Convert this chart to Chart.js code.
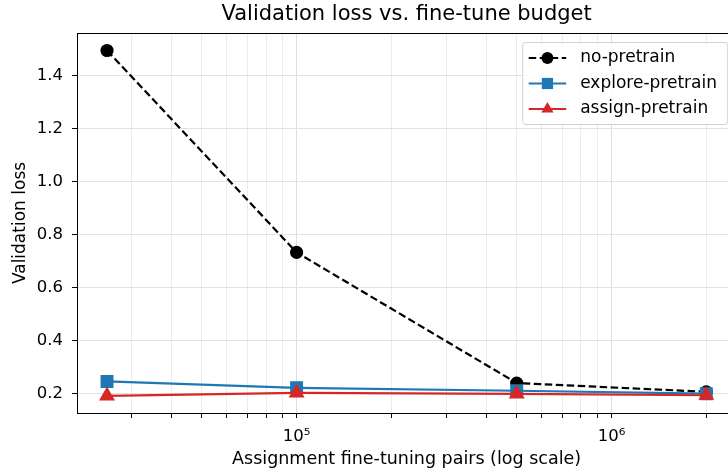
<!DOCTYPE html>
<html>
<head>
<meta charset="utf-8">
<script src="https://cdn.jsdelivr.net/npm/chart.js@4.4.0/dist/chart.umd.min.js"></script>
<style>
  html, body { margin: 0; padding: 0; background: #fff; overflow: hidden; }
  #wrap { width: 728px; height: 470px; overflow: hidden; }
</style>
</head>
<body>
<div id="wrap"><canvas id="lossChart" width="746" height="470"></canvas></div>
<script>
// ===== data =====
const budgets = [25000, 100000, 500000, 2000000];
const noPretrain = [1.495, 0.733, 0.240, 0.207];
const explorePretrain = [0.246, 0.222, 0.211, 0.200];
const assignPretrain = [0.192, 0.203, 0.199, 0.194];

const yTicks = [0.2, 0.4, 0.6, 0.8, 1.0, 1.2, 1.4];
const xMajorTicks = [1e5, 1e6];
const supers = { '4': '⁴', '5': '⁵', '6': '⁶', '7': '⁷' };

const FONT = '"DejaVu Sans", sans-serif';
const xMin = Math.pow(10, 4.3026), xMax = Math.pow(10, 6.396);

// minor gridline positions (2..9 x 10^k) plus the decades
function logTicks(min, max) {
  const out = [];
  for (let e = 4; e <= 6; e++) {
    for (let k = 1; k <= 9; k++) {
      const v = k * Math.pow(10, e);
      if (v >= min && v <= max) out.push(v);
    }
  }
  return out;
}
const isMajor = v => xMajorTicks.some(m => Math.abs(m - v) < 1);

// ===== title + frame + legend =====
const decor = {
  id: 'decor',
  afterDraw(chart) {
    const { ctx, chartArea: a } = chart;
    ctx.save();
    ctx.strokeStyle = '#000';
    ctx.lineWidth = 1;
    ctx.strokeRect(a.left + 0.5, a.top + 0.5, a.right - a.left, a.bottom - a.top);

    ctx.fillStyle = '#000';
    ctx.font = '21px ' + FONT;
    ctx.textAlign = 'center';
    ctx.textBaseline = 'middle';
    ctx.fillText('Validation loss vs. fine-tune budget', (a.left + a.right) / 2, 15);

    // legend box, upper right
    const bx = a.right - 213.5, by = a.top + 9, bw = 205, bh = 82;
    ctx.beginPath();
    ctx.roundRect(bx, by + 0.5, bw, bh, 3);
    ctx.fillStyle = 'rgba(255,255,255,0.85)';
    ctx.fill();
    ctx.strokeStyle = '#d0d0d0';
    ctx.stroke();

    chart.data.datasets.forEach((ds, i) => {
      const y = by + 16 + i * 25.5;
      const x0 = bx + 6, x1 = bx + 43.5, xm = (x0 + x1) / 2;
      ctx.beginPath();
      ctx.setLineDash(ds.borderDash || []);
      ctx.strokeStyle = ds.borderColor;
      ctx.lineWidth = ds.borderWidth;
      ctx.moveTo(x0, y);
      ctx.lineTo(x1, y);
      ctx.stroke();
      ctx.setLineDash([]);
      ctx.fillStyle = ds.borderColor;
      ctx.beginPath();
      if (ds.pointStyle === 'circle') {
        ctx.arc(xm, y, 6, 0, Math.PI * 2);
      } else if (ds.pointStyle === 'rect') {
        ctx.rect(xm - 5.6, y - 5.6, 11.2, 11.2);
      } else {
        ctx.moveTo(xm, y - 7);
        ctx.lineTo(xm + 6.1, y + 3.5);
        ctx.lineTo(xm - 6.1, y + 3.5);
        ctx.closePath();
      }
      ctx.fill();
      ctx.fillStyle = '#000';
      ctx.font = '17px ' + FONT;
      ctx.textAlign = 'left';
      ctx.fillText(ds.label, bx + 57.5, y);
    });
    ctx.restore();
  }
};

function build() {
  const ctx = document.getElementById('lossChart').getContext('2d');
  return new Chart(ctx, {
    type: 'line',
    data: {
      datasets: [{
        label: 'no-pretrain',
        data: budgets.map((b, i) => ({ x: b, y: noPretrain[i] })),
        borderColor: '#000000',
        backgroundColor: '#000000',
        borderDash: [7.5, 3.5],
        borderWidth: 2.2,
        pointStyle: 'circle',
        pointRadius: 5.5,
        order: 3
      }, {
        label: 'explore-pretrain',
        data: budgets.map((b, i) => ({ x: b, y: explorePretrain[i] })),
        borderColor: '#1f77b4',
        backgroundColor: '#1f77b4',
        borderWidth: 2.2,
        pointStyle: 'rect',
        pointRadius: 7.6,
        order: 2
      }, {
        label: 'assign-pretrain',
        data: budgets.map((b, i) => ({ x: b, y: assignPretrain[i] })),
        borderColor: '#d62728',
        backgroundColor: '#d62728',
        borderWidth: 2.2,
        pointStyle: 'triangle',
        pointRadius: 7,
        order: 1
      }]
    },
    options: {
      responsive: false,
      animation: false,
      layout: { padding: { top: 33, right: 5, left: 0, bottom: 0 } },
      plugins: { legend: { display: false }, tooltip: { enabled: false } },
      elements: { line: { tension: 0 }, point: { borderWidth: 1 } },
      scales: {
        x: {
          type: 'logarithmic',
          min: xMin,
          max: xMax,
          afterBuildTicks: s => { s.ticks = logTicks(xMin, xMax).map(v => ({ value: v })); },
          afterFit: s => { s.height = 57; },
          ticks: {
            autoSkip: false,
            maxRotation: 0,
            padding: 9,
            color: '#000',
            font: { family: FONT, size: 16.5 },
            callback: v => isMajor(v) ? '10' + String(Math.round(Math.log10(v))).split('').map(c => supers[c]).join('') : ''
          },
          grid: {
            color: c => c.tick && isMajor(c.tick.value) ? '#dedede' : '#ececec',
            tickColor: '#000',
            tickLength: 5
          },
          border: { color: '#000' },
          title: {
            display: true,
            text: 'Assignment fine-tuning pairs (log scale)',
            color: '#000',
            font: { family: FONT, size: 17.5 },
            padding: { top: 0, bottom: 0 }
          }
        },
        y: {
          min: 0.127,
          max: 1.561,
          afterBuildTicks: s => { s.ticks = yTicks.map(v => ({ value: v })); },
          afterFit: s => { s.width = 77; },
          ticks: {
            padding: 9,
            color: '#000',
            font: { family: FONT, size: 16.5 },
            callback: v => Number(v).toFixed(1)
          },
          grid: { color: '#e3e3e3', tickColor: '#000', tickLength: 5 },
          border: { color: '#000' },
          title: {
            display: true,
            text: 'Validation loss',
            color: '#000',
            font: { family: FONT, size: 17 },
            padding: { top: 10, bottom: 0 }
          }
        }
      }
    },
    plugins: [decor]
  });
}

let lossChart;
document.fonts.load('16px "DejaVu Sans"').finally(() => { lossChart = build(); });
</script>
</body>
</html>
